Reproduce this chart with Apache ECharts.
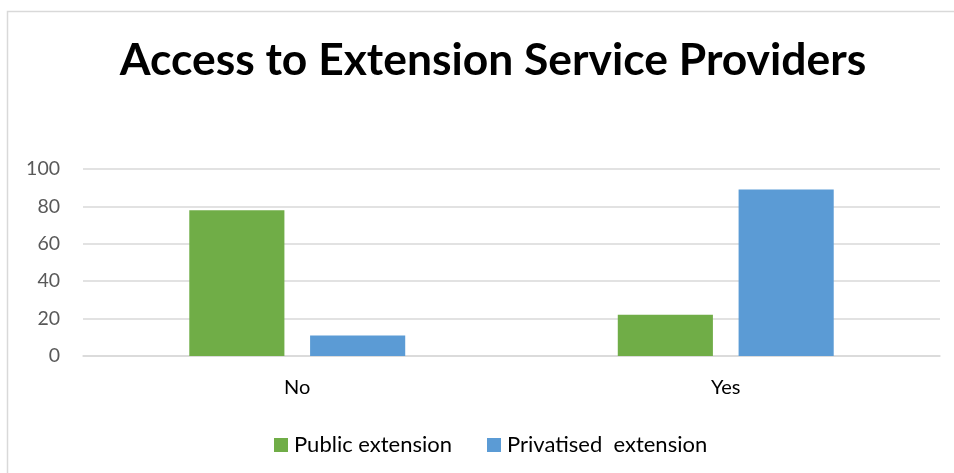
<!DOCTYPE html>
<html>
<head>
<meta charset="utf-8">
<script src="https://cdn.jsdelivr.net/npm/echarts@6/dist/echarts.min.js"></script>
<style>
  html, body { margin: 0; padding: 0; background: #fff; }
  #chart { width: 954px; height: 473px; }
</style>
</head>
<body>
<div id="chart"></div>
<script>
// Survey responses: share of respondents by access to extension providers
const categories = ['No', 'Yes'];
const publicExtension = [78, 22];
const privatisedExtension = [11, 89];
const yTicks = { min: 0, max: 100, interval: 20 };

const chart = echarts.init(document.getElementById('chart'), null, { renderer: 'canvas' });

const FONT = 'Lato, "Open Sans", sans-serif';

chart.setOption({
  animation: false,
  backgroundColor: '#ffffff',
  graphic: [{
    type: 'rect',
    shape: { x: 7.5, y: 11.5, width: 1000, height: 1000 },
    style: { fill: 'none', stroke: '#d9d9d9', lineWidth: 1.5 },
    silent: true,
    z: -1
  }],
  title: {
    text: 'Access to Extension Service Providers',
    left: 488,
    top: 34,
    textAlign: 'center',
    textStyle: { fontFamily: FONT, fontWeight: 'bold', fontSize: 44.4, color: '#000000' }
  },
  legend: {
    left: 274,
    top: 434,
    padding: 0,
    itemWidth: 14,
    itemHeight: 14,
    itemGap: 35,
    icon: 'rect',
    textStyle: { fontFamily: FONT, fontSize: 22, color: '#000000', padding: [0, 0, 0, 1] },
    data: ['Public extension', 'Privatised  extension']
  },
  grid: { left: 83, right: 14, top: 169, bottom: 117, containLabel: false },
  xAxis: {
    type: 'category',
    data: categories,
    axisLine: { lineStyle: { color: '#d9d9d9', width: 1.5 } },
    axisTick: { show: false },
    axisLabel: { fontFamily: FONT, fontSize: 20, color: '#000000', margin: 22 }
  },
  yAxis: {
    type: 'value',
    min: yTicks.min,
    max: yTicks.max,
    interval: yTicks.interval,
    axisLine: { show: false },
    axisTick: { show: false },
    splitLine: { lineStyle: { color: '#d9d9d9', width: 1.5 } },
    axisLabel: { fontFamily: FONT, fontSize: 19.5, color: '#595959', margin: 23 }
  },
  series: [
    {
      name: 'Public extension',
      type: 'bar',
      data: publicExtension,
      barWidth: '22.2%',
      barGap: '27%',
      itemStyle: { color: '#70ad47' }
    },
    {
      name: 'Privatised  extension',
      type: 'bar',
      data: privatisedExtension,
      barWidth: '22.2%',
      itemStyle: { color: '#5b9bd5' }
    }
  ]
});
</script>
</body>
</html>
